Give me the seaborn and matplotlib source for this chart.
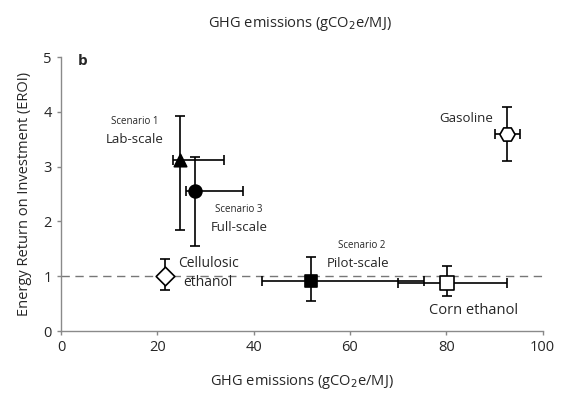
import matplotlib
matplotlib.use("Agg")
import matplotlib.pyplot as plt
import seaborn as sns
import pandas as pd
import numpy as np

sns.set_style("white")
plt.rcParams['font.family'] = ['Open Sans', 'DejaVu Sans']

# Data
names = ["Scenario 1", "Scenario 3", "Scenario 2", "Corn ethanol", "Cellulosic ethanol", "Gasoline"]
ghg = [24.8, 27.9, 52.0, 80.2, 21.5, 92.6]
eroi = [3.12, 2.55, 0.91, 0.87, 1.0, 3.6]
ghg_lo = [23.3, 26.0, 41.7, 70.0, 21.5, 90.1]
ghg_hi = [33.9, 37.8, 75.4, 92.6, 21.5, 95.3]
eroi_lo = [1.85, 1.55, 0.55, 0.64, 0.75, 3.11]
eroi_hi = [3.92, 3.18, 1.36, 1.18, 1.31, 4.09]
markers = ["^", "o", "s", "s", "D", "H"]
facecolors = ["black", "black", "black", "white", "white", "white"]
msizes = [80, 85, 80, 90, 90, 120]

df = pd.DataFrame({"name": names, "ghg": ghg, "eroi": eroi})

fig = plt.figure(figsize=(5.7, 3.96), dpi=100)
ax = fig.add_axes([0.107, 0.164, 0.845, 0.692])

ax.axhline(1.0, color="#777777", lw=1, ls=(0, (6, 4)), zorder=1)

for i in range(len(names)):
    xe = [[ghg[i] - ghg_lo[i]], [ghg_hi[i] - ghg[i]]]
    ye = [[eroi[i] - eroi_lo[i]], [eroi_hi[i] - eroi[i]]]
    ax.errorbar(ghg[i], eroi[i], xerr=xe if ghg_hi[i] > ghg_lo[i] else None,
                yerr=ye, fmt="none", ecolor="black", elinewidth=1.2,
                capsize=3.5, capthick=1.2, zorder=2)

for i in range(len(names)):
    sns.scatterplot(data=df.iloc[[i]], x="ghg", y="eroi", marker=markers[i],
                    s=msizes[i], color=facecolors[i], edgecolor="black",
                    linewidth=1.2, ax=ax, zorder=3, legend=False)

ax.set_xlim(0, 100)
ax.set_ylim(0, 5)
ax.set_xticks([0, 20, 40, 60, 80, 100])
ax.set_yticks([0, 1, 2, 3, 4, 5])
ax.tick_params(axis="both", labelsize=10.5, length=3, width=1, color="#888888",
               direction="out", bottom=True, left=True)
for s in ["top", "right"]:
    ax.spines[s].set_visible(False)
for s in ["left", "bottom"]:
    ax.spines[s].set_color("#8a8a8a")
    ax.spines[s].set_linewidth(1)

ax.set_xlabel("GHG emissions (gCO$_2$e/MJ)", fontsize=10.5, labelpad=13)
ax.set_ylabel("Energy Return on Investment (EROI)", fontsize=10.5, labelpad=8)
fig.text(0.527, 0.94, "GHG emissions (gCO$_2$e/MJ)", fontsize=10.5, ha="center", va="center")

ax.text(4.4, 4.93, "b", fontsize=11, fontweight="bold", ha="center", va="center")
ax.text(15.4, 3.82, "Scenario 1", fontsize=7, ha="center", va="center")
ax.text(15.4, 3.49, "Lab-scale", fontsize=9.5, ha="center", va="center")
ax.text(37.0, 2.22, "Scenario 3", fontsize=7, ha="center", va="center")
ax.text(37.0, 1.89, "Full-scale", fontsize=9.5, ha="center", va="center")
ax.text(62.4, 1.56, "Scenario 2", fontsize=7, ha="center", va="center")
ax.text(61.7, 1.24, "Pilot-scale", fontsize=9.5, ha="center", va="center")
ax.text(85.6, 0.38, "Corn ethanol", fontsize=10.5, ha="center", va="center")
ax.text(24.3, 1.24, "Cellulosic", fontsize=10, ha="left", va="center")
ax.text(25.4, 0.89, "ethanol", fontsize=10, ha="left", va="center")
ax.text(84.2, 3.87, "Gasoline", fontsize=9.5, ha="center", va="center")

fig.savefig("out.png", dpi=100)
